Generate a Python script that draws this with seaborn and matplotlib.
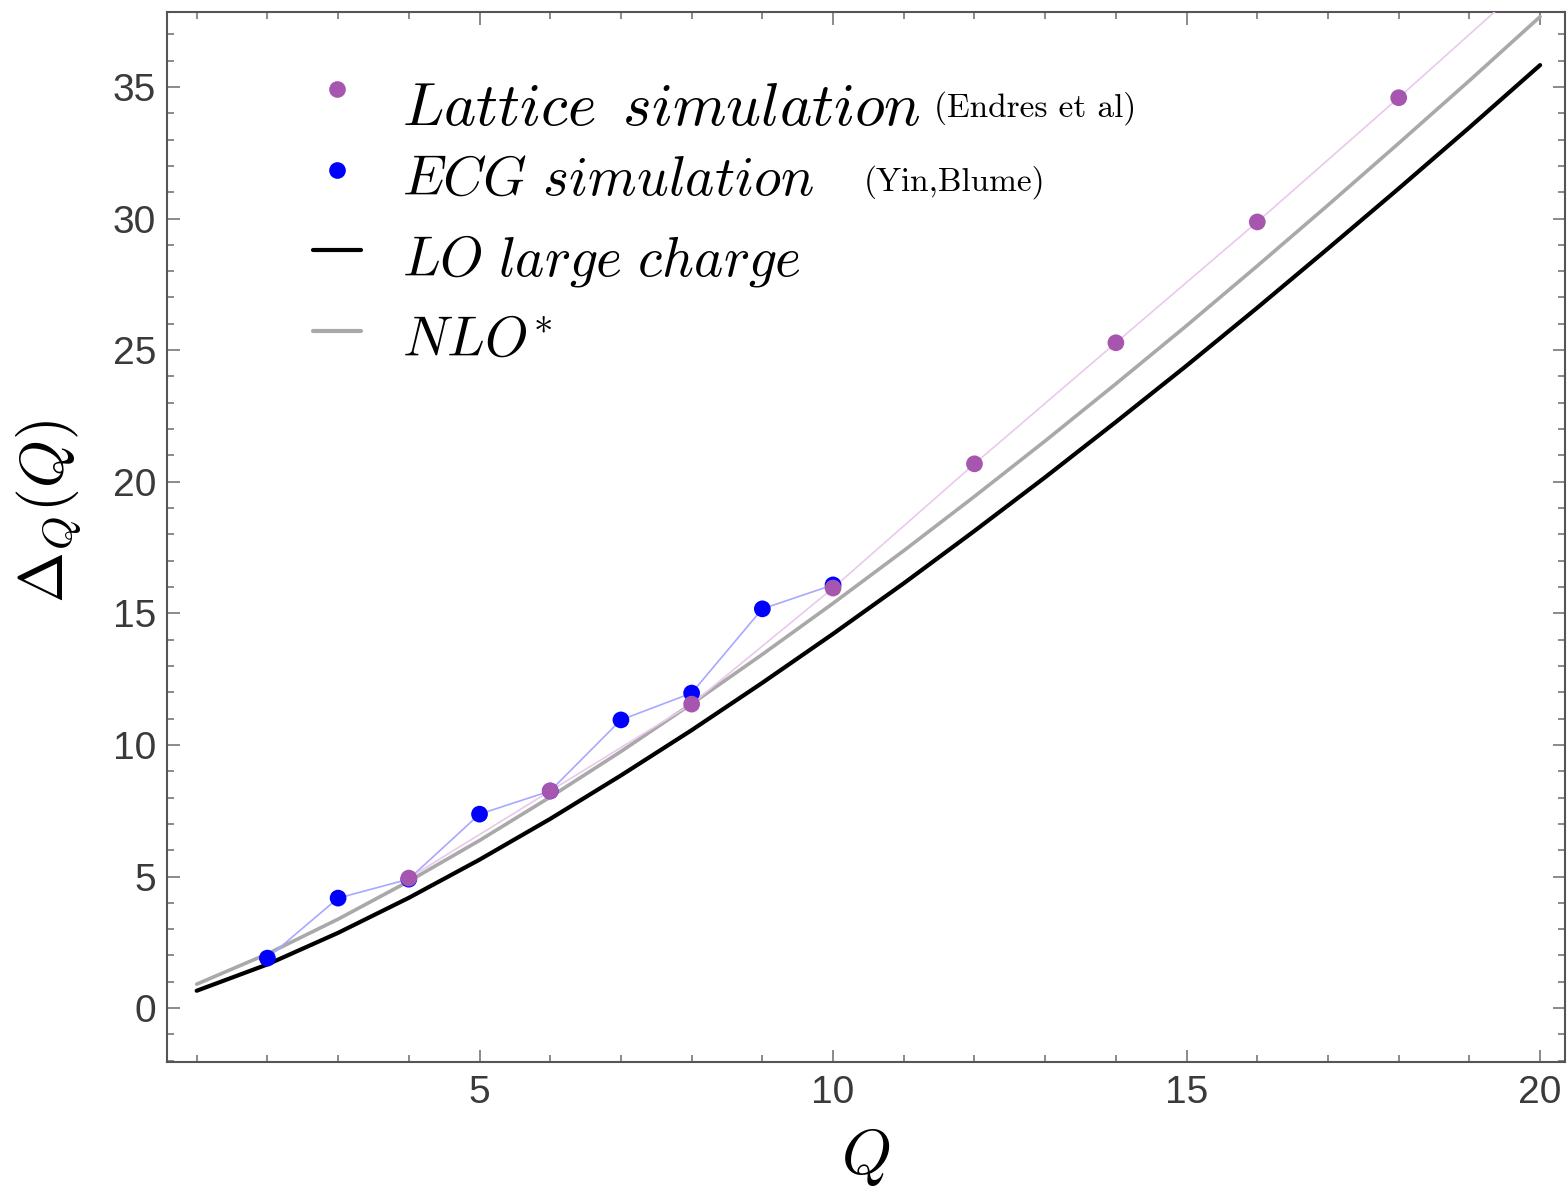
import matplotlib
matplotlib.use("Agg")
import matplotlib.pyplot as plt
from matplotlib.lines import Line2D
from matplotlib.ticker import MultipleLocator
import seaborn as sns
import pandas as pd

# ---- data ----
q_curve = [1, 2, 3, 4, 5, 6, 7, 8, 9, 10, 11, 12, 13, 14, 15, 16, 17, 18, 19, 20]
lo_values = [0.66, 1.66, 2.86, 4.19, 5.64, 7.19, 8.84, 10.56, 12.36, 14.22,
             16.14, 18.13, 20.17, 22.27, 24.41, 26.61, 28.86, 31.14, 33.46, 35.83]
nlo_values = [0.91, 2.06, 3.38, 4.82, 6.37, 8.02, 9.75, 11.56, 13.44, 15.38,
              17.38, 19.44, 21.55, 23.72, 25.93, 28.20, 30.51, 32.86, 35.24, 37.67]
lattice_q = [4, 6, 8, 10, 12, 14, 16, 18, 20]
lattice_values = [4.94, 8.25, 11.55, 15.96, 20.68, 25.28, 29.87, 34.59, 39.40]
ecg_q = [2, 3, 4, 5, 6, 7, 8, 9, 10]
ecg_values = [1.90, 4.18, 4.90, 7.37, 8.25, 10.95, 11.97, 15.17, 16.08]

legend_labels = [r"$Lattice\ \,simulation$", r"$ECG\ simulation$",
                 r"$LO\ large\ charge$", r"$NLO^{*}$"]
legend_notes = ["(Endres et al)", "(Yin,Blume)"]

sns.set_style("ticks")
plt.rcParams["mathtext.fontset"] = "cm"
plt.rcParams["font.family"] = ["Liberation Sans", "DejaVu Sans"]
plt.rcParams["text.color"] = "black"

purple = "#A656AF"
blue = "#0000FF"

fig = plt.figure(figsize=(15.68, 11.92), dpi=100)
ax = fig.add_axes([0.1065, 0.109, 0.8915, 0.881])

df_curve = pd.DataFrame({"Q": q_curve, "LO": lo_values, "NLO": nlo_values})
df_lat = pd.DataFrame({"Q": lattice_q, "D": lattice_values})
df_ecg = pd.DataFrame({"Q": ecg_q, "D": ecg_values})

sns.lineplot(data=df_curve, x="Q", y="LO", ax=ax, color="black", lw=3.0, zorder=2)
sns.lineplot(data=df_curve, x="Q", y="NLO", ax=ax, color="#A9A9A9", lw=2.6, zorder=3)
sns.lineplot(data=df_ecg, x="Q", y="D", ax=ax, color="#A8A8FF", lw=1.2, zorder=4)
sns.lineplot(data=df_lat, x="Q", y="D", ax=ax, color="#E9C9EC", lw=1.2, zorder=5)
sns.scatterplot(data=df_ecg, x="Q", y="D", ax=ax, color=blue, s=145,
                edgecolor="none", linewidth=0, zorder=6)
sns.scatterplot(data=df_lat, x="Q", y="D", ax=ax, color=purple, s=145,
                edgecolor="none", linewidth=0, zorder=7)

ax.set_xlim(0.58, 20.35)
ax.set_ylim(-2.05, 37.85)
ax.xaxis.set_major_locator(MultipleLocator(5))
ax.xaxis.set_minor_locator(MultipleLocator(1))
ax.yaxis.set_major_locator(MultipleLocator(5))
ax.yaxis.set_minor_locator(MultipleLocator(1))
ax.tick_params(which="both", direction="in", top=True, right=True,
               color="#777777", width=1.2)
ax.tick_params(which="major", length=9, labelsize=28, labelcolor="#3a3a3a", pad=8)
ax.tick_params(which="minor", length=5)
ax.tick_params(axis="x", which="major", pad=9)
ax.tick_params(labeltop=False, labelright=False)
for sp in ax.spines.values():
    sp.set_color("#555555")
    sp.set_linewidth(1.5)

ax.set_xlabel(r"$Q$", fontsize=46, labelpad=12, color="black")
ax.set_ylabel(r"$\Delta_Q(Q)$", fontsize=44, labelpad=21, y=0.524, color="black")

handles = [
    Line2D([], [], ls="none", marker="o", ms=12, color=purple, mec="none"),
    Line2D([], [], ls="none", marker="o", ms=12, color=blue, mec="none"),
    Line2D([], [], color="black", lw=3.0),
    Line2D([], [], color="#A9A9A9", lw=3.0),
]
leg = ax.legend(handles, legend_labels, loc="upper left",
                bbox_to_anchor=(0.1044, 0.948), frameon=False, fontsize=44,
                handlelength=0.78, handletextpad=0.68, labelspacing=0.41,
                borderpad=0, borderaxespad=0, labelcolor="black")
row_sizes = [44, 40, 40, 40]
row_shift = [-14, -3, -4, -3]
for t, fs, dy in zip(leg.get_texts(), row_sizes, row_shift):
    t.set_fontsize(fs)
    t.set_y(dy)

ax.text(0.549, 0.908, legend_notes[0], transform=ax.transAxes, fontsize=24,
        family="cmr10", va="center", ha="left", color="black")
ax.text(0.4986, 0.838, legend_notes[1], transform=ax.transAxes, fontsize=24,
        family="cmr10", va="center", ha="left", color="black")

fig.savefig("out.png", dpi=100)
